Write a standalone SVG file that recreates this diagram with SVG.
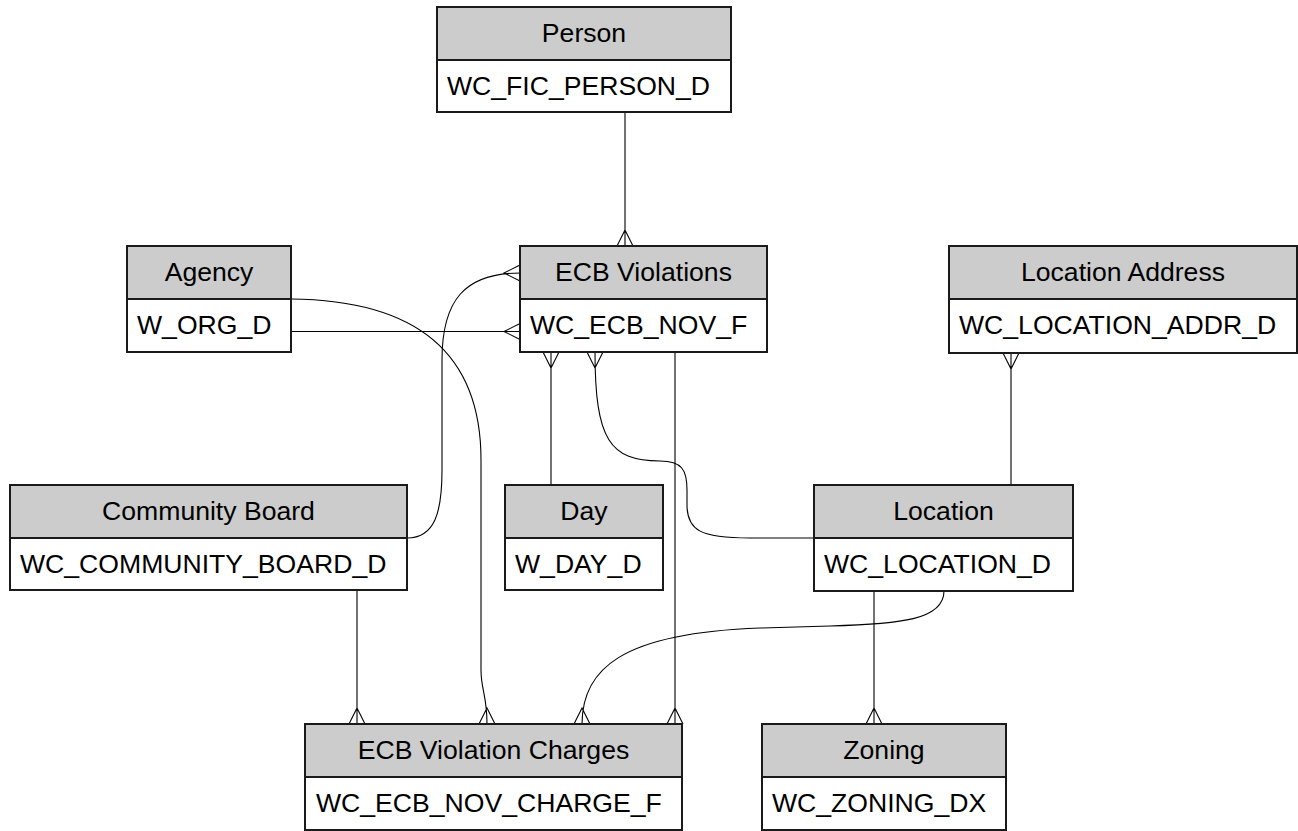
<svg xmlns="http://www.w3.org/2000/svg" width="1298" height="831" viewBox="0 0 1298 831">
<defs>
<style>
.hd{fill:#cccccc;stroke:#1a1a1a;stroke-width:2}
.bd{fill:#ffffff;stroke:#1a1a1a;stroke-width:2}
.t{font-family:"Liberation Sans",Arial,sans-serif;font-size:26.6px;fill:#000}
.c{text-anchor:middle}
.ln{fill:none;stroke:#000;stroke-width:1.1}
</style>
</defs>
<rect width="1298" height="831" fill="#ffffff"/>
<g id="connectors" class="ln">
<!-- Person -> ECB Violations -->
<path d="M625,112 L625,246 M617,246 L625,230 L633,246"/>
<!-- Agency -> ECB Violations -->
<path d="M291,331.5 L520,331.5 M520,323.5 L504,331.5 L520,339.5"/>
<!-- Community Board -> ECB Violations -->
<path d="M407,538 C435,538 442,512 442,470 L442,360 C442,300 465,273 520,273 M520,265 L504,273 L520,281"/>
<!-- Agency -> ECB Violation Charges -->
<path d="M291,299 C400,300 481,340 481,460 L481,670 C481,690 487,695 487,724 M479,724 L487,708 L495,724"/>
<!-- Day -> ECB Violations -->
<path d="M551,485 L551,352 M543,352 L551,368 L559,352"/>
<!-- Location -> ECB Violations -->
<path d="M814,538 L750,538 C700,538 687,530 687,505 L687,490 C687,470 682,461 660,461 C610,461 595,440 595,352 M587,352 L595,368 L603,352"/>
<!-- ECB Violations -> ECB Violation Charges -->
<path d="M675,352 L675,724 M667,724 L675,708 L683,724"/>
<!-- Community Board -> ECB Violation Charges -->
<path d="M357,590 L357,724 M349,724 L357,708 L365,724"/>
<!-- Location -> ECB Violation Charges -->
<path d="M944,591 C944,620 900,624 830,626 L760,628 C620,633 582,670 582,724 M574,724 L582,708 L590,724"/>
<!-- Location -> Zoning -->
<path d="M874,591 L874,724 M866,724 L874,708 L882,724"/>
<!-- Location -> Location Address -->
<path d="M1011,485 L1011,353 M1003,353 L1011,369 L1019,353"/>
</g>
<g id="person">
<rect class="hd" x="437" y="7" width="294" height="53"/>
<rect class="bd" x="437" y="60" width="294" height="52"/>
<text class="t c" x="584" y="42">Person</text>
<text class="t" x="447" y="95">WC_FIC_PERSON_D</text>
</g>
<g id="agency">
<rect class="hd" x="127" y="246" width="164" height="53"/>
<rect class="bd" x="127" y="299" width="164" height="53"/>
<text class="t c" x="209" y="281">Agency</text>
<text class="t" x="137" y="334">W_ORG_D</text>
</g>
<g id="ecb-violations">
<rect class="hd" x="520" y="246" width="247" height="53"/>
<rect class="bd" x="520" y="299" width="247" height="53"/>
<text class="t c" x="643.5" y="281">ECB Violations</text>
<text class="t" x="530" y="334">WC_ECB_NOV_F</text>
</g>
<g id="location-address">
<rect class="hd" x="949" y="246" width="348" height="53"/>
<rect class="bd" x="949" y="299" width="348" height="54"/>
<text class="t c" x="1123" y="281">Location Address</text>
<text class="t" x="959" y="334">WC_LOCATION_ADDR_D</text>
</g>
<g id="community-board">
<rect class="hd" x="10" y="485" width="397" height="53"/>
<rect class="bd" x="10" y="538" width="397" height="52"/>
<text class="t c" x="208.5" y="520">Community Board</text>
<text class="t" x="20" y="573">WC_COMMUNITY_BOARD_D</text>
</g>
<g id="day">
<rect class="hd" x="505" y="485" width="158" height="53"/>
<rect class="bd" x="505" y="538" width="158" height="52"/>
<text class="t c" x="584" y="520">Day</text>
<text class="t" x="515" y="573">W_DAY_D</text>
</g>
<g id="location">
<rect class="hd" x="814" y="485" width="259" height="53"/>
<rect class="bd" x="814" y="538" width="259" height="53"/>
<text class="t c" x="943.5" y="520">Location</text>
<text class="t" x="824" y="573">WC_LOCATION_D</text>
</g>
<g id="ecb-violation-charges">
<rect class="hd" x="305" y="724" width="377" height="53"/>
<rect class="bd" x="305" y="777" width="377" height="53"/>
<text class="t c" x="493.5" y="759">ECB Violation Charges</text>
<text class="t" x="316" y="812">WC_ECB_NOV_CHARGE_F</text>
</g>
<g id="zoning">
<rect class="hd" x="762" y="724" width="244" height="53"/>
<rect class="bd" x="762" y="777" width="244" height="53"/>
<text class="t c" x="884" y="759">Zoning</text>
<text class="t" x="772" y="812">WC_ZONING_DX</text>
</g>
</svg>
